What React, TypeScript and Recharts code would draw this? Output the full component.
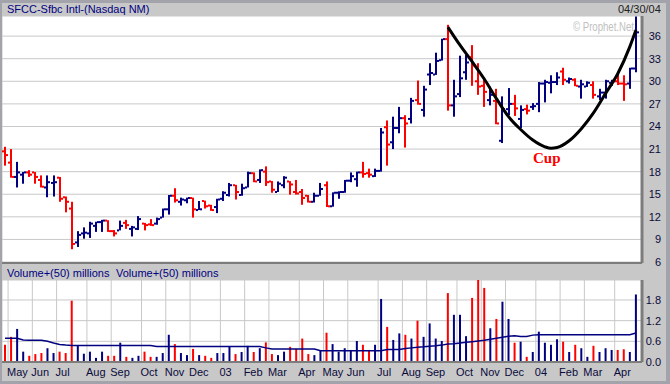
import React from 'react';
import { ComposedChart, Bar, Line, XAxis, YAxis, CartesianGrid, Cell } from 'recharts';

document.body.style.margin = '0';

const NAVY = '#000080';
const RED = '#ff0000';
const GRID = '#c8c8c8';
const FRAME = '#7c7c7c';
const LABEL = '#0a0a3c';
const FONT = '"Liberation Sans", Arial, sans-serif';

// weekly bars, week 0 = week of 2002-04-29, week 104 = week of 2004-04-26
const monthStarts = [1, 5, 9, 14, 18, 23, 27, 31, 36, 40, 44, 49, 53, 57, 62, 66, 70, 75, 79, 83, 88, 92, 96, 101];
const monthLabels = ['May', 'Jun', 'Jul', 'Aug', 'Sep', 'Oct', 'Nov', 'Dec', '03', 'Feb', 'Mar', 'Apr',
  'May', 'Jun', 'Jul', 'Aug', 'Sep', 'Oct', 'Nov', 'Dec', '04', 'Feb', 'Mar', 'Apr'];

const opens = [
  20.7, 19.2, 17.3, 17.6, 17.9, 17.9, 16.9, 15.9, 16.5, 17.2,
  14.6, 13.1, 8.6, 9.8, 9.8, 10.8, 11.3, 11.5, 10.1, 10.2,
  11.2, 10.4, 10.4, 11.1, 11.0, 11.1, 11.9, 13.0, 14.8, 14.0,
  14.2, 14.5, 12.9, 14.1, 13.5, 13.3, 14.4, 14.9, 16.2, 14.9,
  15.9, 17.8, 16.9, 18.0, 16.7, 15.3, 16.2, 16.7, 15.3, 15.3,
  14.8, 14.0, 14.8, 16.2, 13.4, 15.2, 15.3, 16.8, 17.0, 17.9,
  17.8, 17.4, 18.1, 23.9, 21.9, 23.8, 25.1, 25.0, 27.5, 26.2,
  30.9, 30.9, 32.8, 35.6, 26.8, 28.3, 31.2, 33.2, 30.0, 29.4,
  27.5, 27.4, 22.1, 26.3, 27.0, 25.0, 26.3, 26.6, 27.0, 29.7,
  29.8, 29.9, 31.3, 30.0, 30.2, 29.3, 29.3, 29.5, 28.0, 28.5,
  29.8, 30.0, 29.7, 29.7, 31.7,
];
const highs = [
  21.3, 21.0, 19.3, 17.95, 18.2, 17.95, 17.5, 17.5, 17.5, 17.3,
  14.7, 14.0, 10.1, 10.6, 11.35, 11.35, 11.6, 11.55, 10.25, 11.5,
  11.6, 10.8, 12.1, 11.2, 11.7, 11.9, 13.1, 14.9, 15.8, 14.55,
  14.55, 14.55, 14.1, 14.15, 13.6, 14.4, 15.4, 16.5, 16.25, 16.4,
  18.0, 17.9, 18.3, 18.7, 16.75, 16.7, 17.4, 16.75, 16.9, 15.7,
  14.9, 15.2, 16.5, 16.7, 15.25, 15.4, 16.9, 17.9, 18.0, 19.3,
  18.4, 18.4, 23.8, 24.8, 25.3, 26.6, 25.5, 27.8, 30.1, 29.4,
  32.4, 33.8, 35.65, 37.5, 30.2, 33.4, 33.5, 34.8, 32.4, 30.4,
  29.3, 29.0, 28.0, 29.1, 28.2, 26.8, 26.9, 27.1, 29.9, 30.2,
  30.8, 31.2, 31.8, 30.5, 30.4, 30.2, 30.0, 30.0, 29.0, 30.2,
  30.2, 31.3, 30.8, 31.8, 38.6,
];
const lows = [
  18.8, 17.2, 15.9, 16.4, 17.3, 16.4, 15.9, 14.6, 14.7, 14.0,
  12.6, 7.7, 8.0, 9.1, 9.2, 10.0, 10.0, 10.0, 9.4, 10.2,
  10.4, 9.4, 10.25, 10.2, 10.8, 10.95, 11.9, 12.3, 13.9, 13.5,
  13.8, 11.9, 12.9, 13.1, 12.8, 12.5, 14.1, 14.7, 14.3, 14.8,
  15.9, 16.6, 16.5, 16.1, 15.2, 15.3, 15.8, 14.95, 14.95, 13.6,
  13.9, 13.9, 14.8, 13.3, 13.35, 14.4, 15.2, 16.6, 16.0, 17.2,
  17.2, 17.3, 18.0, 18.8, 21.0, 23.1, 21.2, 24.4, 26.9, 25.3,
  29.5, 30.85, 32.75, 26.1, 25.3, 27.9, 30.2, 29.4, 28.2, 26.6,
  26.8, 24.3, 21.8, 25.5, 25.4, 23.8, 25.6, 26.2, 25.9, 27.2,
  28.4, 29.5, 29.5, 29.7, 29.35, 27.7, 29.25, 27.7, 27.5, 27.7,
  29.4, 29.5, 27.4, 29.0, 31.2,
];
const closes = [
  20.2, 17.3, 17.9, 17.9, 17.6, 17.3, 16.0, 16.6, 16.6, 14.4,
  14.0, 8.4, 9.6, 9.9, 11.1, 11.3, 11.5, 10.1, 9.8, 10.8,
  10.9, 10.6, 11.7, 10.9, 10.9, 11.7, 13.0, 14.8, 14.2, 14.3,
  14.5, 13.0, 13.0, 13.4, 12.9, 14.3, 15.2, 16.2, 15.3, 15.8,
  17.8, 16.7, 18.2, 16.6, 15.6, 16.4, 17.2, 16.3, 15.1, 14.5,
  14.0, 14.8, 15.7, 13.4, 15.2, 15.3, 16.8, 17.4, 17.9, 17.7,
  17.6, 18.1, 23.2, 21.6, 23.8, 25.1, 24.4, 27.4, 27.0, 28.9,
  31.1, 32.7, 35.6, 26.8, 28.0, 30.4, 32.5, 32.1, 29.3, 28.6,
  28.2, 24.4, 26.3, 27.0, 26.4, 26.2, 26.1, 26.7, 29.7, 29.9,
  29.9, 30.5, 30.2, 30.3, 29.4, 29.6, 29.8, 28.2, 28.5, 30.0,
  30.0, 29.7, 29.6, 31.7, 36.5,
];
// weekly volume, millions
const volumes = [
  0.50, 0.73, 0.96, 0.30, 0.18, 0.23, 0.26, 0.40, 0.26, 0.30,
  0.26, 1.78, 0.49, 0.24, 0.30, 0.12, 0.30, 0.18, 0.18, 0.56,
  0.15, 0.12, 0.18, 0.30, 0.15, 0.15, 0.26, 0.79, 0.52, 0.26,
  0.20, 0.38, 0.20, 0.18, 0.12, 0.26, 0.26, 0.44, 0.23, 0.29,
  0.47, 0.29, 0.40, 0.57, 0.23, 0.20, 0.30, 0.44, 0.38, 0.68,
  0.23, 0.20, 0.32, 0.85, 0.52, 0.30, 0.40, 0.35, 0.61, 0.50,
  0.35, 0.50, 1.83, 1.02, 0.64, 0.83, 0.79, 0.68, 1.20, 0.73,
  1.12, 0.68, 0.61, 2.00, 1.37, 1.37, 0.75, 1.86, 2.38, 2.15,
  0.98, 1.25, 1.75, 1.25, 0.56, 0.59, 0.15, 0.29, 0.88, 0.56,
  0.50, 0.66, 0.59, 0.29, 0.50, 0.40, 0.15, 0.47, 0.29, 0.40,
  0.35, 0.35, 0.37, 0.29, 1.96,
];
// 50 week volume average as drawn
const volumeAvg = [
  0.69, 0.69, 0.69, 0.64, 0.63, 0.63, 0.63, 0.60, 0.55, 0.51,
  0.49, 0.48, 0.48, 0.48, 0.48, 0.48, 0.48, 0.48, 0.48, 0.48,
  0.48, 0.48, 0.48, 0.48, 0.48, 0.45, 0.45, 0.45, 0.45, 0.45,
  0.45, 0.45, 0.45, 0.45, 0.45, 0.45, 0.45, 0.45, 0.45, 0.45,
  0.45, 0.45, 0.45, 0.41, 0.38, 0.38, 0.38, 0.38, 0.38, 0.38,
  0.38, 0.38, 0.33, 0.33, 0.33, 0.33, 0.33, 0.33, 0.33, 0.33,
  0.33, 0.33, 0.33, 0.36, 0.36, 0.36, 0.39, 0.41, 0.43, 0.44,
  0.46, 0.47, 0.49, 0.52, 0.53, 0.55, 0.57, 0.59, 0.61, 0.63,
  0.66, 0.69, 0.72, 0.75, 0.76, 0.74, 0.74, 0.78, 0.79, 0.79,
  0.79, 0.79, 0.79, 0.79, 0.79, 0.79, 0.79, 0.79, 0.79, 0.79,
  0.79, 0.79, 0.79, 0.79, 0.84,
];
// hand drawn cup
const cupWeeks = [73, 75, 77, 79, 81, 83, 85, 87, 89, 90, 91, 93, 95, 97, 99, 101, 103, 104];
const cupPrices = [37.2, 34.8, 32.6, 30.3, 27.7, 25.3, 23.6, 22.2, 21.3, 21.1, 21.2, 22.1, 23.7, 25.8, 28.4, 31.0, 34.6, 36.8];

const priceTicks = [6, 9, 12, 15, 18, 21, 24, 27, 30, 33, 36];
const volumeTicks = [0, 0.6, 1.2, 1.8];
const gridTicks = monthStarts.map((k) => k - 0.5);

const rows = opens.map((o, i) => ({
  i,
  open: o,
  high: highs[i],
  low: lows[i],
  close: closes[i],
  range: [lows[i], highs[i]],
  volume: volumes[i],
  avg: volumeAvg[i],
  cup: cupWeeks.includes(i) ? cupPrices[cupWeeks.indexOf(i)] : null,
}));

const barColor = (d: any) => (d.close >= d.open ? NAVY : RED);

const OhlcBar = (props: any) => {
  const { x, y, width, height, payload } = props;
  if (x == null || y == null || !payload) return null;
  const top = Math.min(y, y + height);
  const bot = Math.max(y, y + height);
  const span = payload.high - payload.low;
  const py = (v: number) => (span > 0 ? top + ((payload.high - v) / span) * (bot - top) : top);
  const cx = Math.round(x + width / 2);
  const c = barColor(payload);
  return (
    <g>
      <rect x={cx - 1} y={top} width={2} height={Math.max(bot - top, 1)} fill={c} />
      <rect x={cx - 3} y={py(payload.open) - 1} width={2} height={2} fill={c} />
      <rect x={cx + 1} y={py(payload.close) - 1} width={2} height={2} fill={c} />
    </g>
  );
};

const RightTick = ({ x, y, payload, digits }: any) => (
  <text x={x + 19} y={y} dy={4} textAnchor="end" fontSize={11} fontFamily={FONT} fill={LABEL}>
    {payload.value.toFixed(digits)}
  </text>
);

const MonthTick = ({ x, y, payload }: any) => {
  const k = monthStarts.indexOf(payload.value + 0.5);
  return (
    <text x={x - 1} y={y + 14} textAnchor="start" fontSize={11} fontFamily={FONT} fill={LABEL}>
      {monthLabels[k]}
    </text>
  );
};

const abs = (left: number, top: number, extra: any = {}) => ({
  position: 'absolute' as const, left, top, fontFamily: FONT, fontSize: 11, lineHeight: '12px',
  whiteSpace: 'nowrap' as const, ...extra,
});

export default function App() {
  return (
    <div style={{ position: 'relative', width: 670, height: 384, background: '#c8c8c8', overflow: 'hidden' }}>
      <div style={abs(7, 3, { color: NAVY })}>SFCC-Sfbc Intl-(Nasdaq NM)</div>
      <div style={abs(618, 3, { color: '#202020' })}>04/30/04</div>

      <div style={abs(7, 267, { color: NAVY })}>Volume+(50) millions</div>
      <div style={abs(116, 267, { color: NAVY })}>Volume+(50) millions</div>

      <div style={{ position: 'absolute', left: 0, top: 265 }}>
        <ComposedChart width={670} height={119} data={rows} margin={{ top: 15, right: 0, bottom: 2, left: 2 }}>
          <CartesianGrid fill="#ffffff" stroke={GRID} strokeWidth={1} />
          <XAxis type="number" dataKey="i" domain={[-0.5, 105]} ticks={gridTicks} interval={0}
            tickSize={0} tickMargin={0} tickLine={false} height={20}
            axisLine={{ stroke: FRAME, strokeWidth: 2 }} tick={<MonthTick />} />
          <YAxis orientation="right" width={28} domain={[0, 2.38]} allowDataOverflow ticks={volumeTicks}
            interval={0} tickSize={0} tickMargin={0} tickLine={false}
            axisLine={{ stroke: FRAME, strokeWidth: 3 }} tick={<RightTick digits={1} />} />
          <Bar dataKey="volume" barSize={2} isAnimationActive={false}>
            {rows.map((d) => (
              <Cell key={d.i} fill={barColor(d)} />
            ))}
          </Bar>
          <Line dataKey="avg" type="linear" stroke={NAVY} strokeWidth={1.5} dot={false} activeDot={false}
            isAnimationActive={false} />
        </ComposedChart>
      </div>

      <div style={{ position: 'absolute', left: 0, top: 0 }}>
        <ComposedChart width={670} height={270} data={rows}
          margin={{ top: 16, right: 0, bottom: 4, left: 2 }}>
          <CartesianGrid fill="#ffffff" stroke={GRID} strokeWidth={1} />
          <XAxis type="number" dataKey="i" domain={[-0.5, 105]} ticks={gridTicks} interval={0}
            tick={false} tickLine={false} height={3} axisLine={{ stroke: FRAME, strokeWidth: 2 }} />
          <YAxis orientation="right" width={28} domain={[5.87, 38.67]} allowDataOverflow ticks={priceTicks}
            interval={0} tickSize={0} tickMargin={0} tickLine={false}
            axisLine={{ stroke: FRAME, strokeWidth: 3 }} tick={<RightTick digits={0} />} />
          <Bar dataKey="range" barSize={2} shape={<OhlcBar />} isAnimationActive={false} />
          <Line dataKey="cup" type="monotone" connectNulls stroke="#000000" strokeWidth={3} dot={false}
            activeDot={false} isAnimationActive={false} />
        </ComposedChart>
      </div>

      <div style={abs(573, 20, {
        color: '#c0c0c0', fontSize: 12, lineHeight: '14px', transform: 'scaleX(0.8)', transformOrigin: 'left top',
      })}>© Prophet.Net</div>
      <div style={abs(533, 150, {
        color: RED, fontSize: 15, lineHeight: '16px', fontWeight: 'bold',
        fontFamily: '"Liberation Serif", "Times New Roman", serif',
      })}>Cup</div>

      <div style={{
        position: 'absolute', left: 0, top: 0, width: 670, height: 384, boxSizing: 'border-box',
        borderStyle: 'solid', borderColor: '#a3a3ab', borderWidth: '3px 4px 3px 2px', pointerEvents: 'none',
      }} />
    </div>
  );
}
